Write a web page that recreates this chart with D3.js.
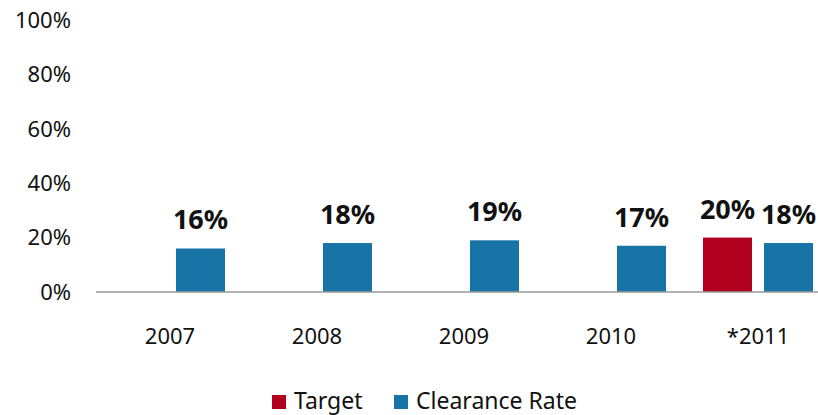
<!DOCTYPE html>
<html>
<head>
<meta charset="utf-8">
<script src="https://cdn.jsdelivr.net/npm/d3@7"></script>
<style>
  html, body { margin: 0; padding: 0; background: #fff; }
  svg { display: block; }
  .tick-lbl { font-family: "Noto Sans", "Open Sans", sans-serif; }
  .val { font-family: "Noto Sans", "Open Sans", sans-serif; font-weight: bold; }
  .leg { font-family: "Noto Sans", "Open Sans", sans-serif; }
</style>
</head>
<body>
<script>
const categories = ["2007", "2008", "2009", "2010", "*2011"];
const seriesNames = ["Target", "Clearance Rate"];
const targetValues = [null, null, null, null, 20];
const clearanceValues = [16, 18, 19, 17, 18];
const yTicks = [0, 20, 40, 60, 80, 100];
const colors = { "Target": "#B0001E", "Clearance Rate": "#1874A6" };

const W = 818, H = 415;
const svg = d3.select("body").append("svg").attr("width", W).attr("height", H);

const x0 = d3.scaleBand().domain(categories).range([96.5, 96.5 + 5 * 147]).paddingInner(0).paddingOuter(0);
const x1 = d3.scaleBand().domain(seriesNames).range([18.5, 128.5]).paddingInner(12 / 61).paddingOuter(0);
const y = d3.scaleLinear().domain([0, 100]).range([292, 20]);

// y tick labels
svg.append("g").selectAll("text").data(yTicks).join("text")
  .attr("class", "tick-lbl")
  .attr("x", 71).attr("y", d => y(d)).attr("dy", "0.35em")
  .attr("text-anchor", "end").attr("font-size", 22).attr("fill", "#111")
  .text(d => d + "%");

const rows = categories.map((c, i) => ({
  cat: c,
  vals: [{ s: "Target", v: targetValues[i] }, { s: "Clearance Rate", v: clearanceValues[i] }]
}));

const g = svg.append("g").selectAll("g").data(rows).join("g")
  .attr("transform", d => `translate(${x0(d.cat)},0)`);

g.selectAll("rect").data(d => d.vals.filter(e => e.v != null)).join("rect")
  .attr("x", d => x1(d.s)).attr("width", x1.bandwidth())
  .attr("y", d => y(d.v)).attr("height", d => y(0) - y(d.v))
  .attr("fill", d => colors[d.s]);

g.selectAll("text.val").data(d => d.vals.filter(e => e.v != null)).join("text")
  .attr("class", "val")
  .attr("x", d => x1(d.s) + x1.bandwidth() / 2).attr("y", d => y(d.v) - 19)
  .attr("text-anchor", "middle").attr("font-size", 27).attr("fill", "#111")
  .text(d => d.v + "%");

// x axis line
svg.append("line").attr("x1", 96).attr("x2", W).attr("y1", y(0)).attr("y2", y(0))
  .attr("stroke", "#999").attr("stroke-width", 1.5);

// x labels
svg.append("g").selectAll("text").data(categories).join("text")
  .attr("class", "tick-lbl")
  .attr("x", d => x0(d) + x0.bandwidth() / 2).attr("y", 344)
  .attr("text-anchor", "middle").attr("font-size", 22).attr("fill", "#111")
  .text(d => d);

// legend
const legX = [272, 394];
const leg = svg.append("g").selectAll("g").data(seriesNames).join("g")
  .attr("transform", (d, i) => `translate(${legX[i]},395)`);
leg.append("rect").attr("width", 14).attr("height", 14).attr("fill", d => colors[d]);
leg.append("text").attr("class", "leg").attr("x", 22).attr("y", 14)
  .attr("font-size", 23).attr("fill", "#111").text(d => d);
</script>
</body>
</html>
